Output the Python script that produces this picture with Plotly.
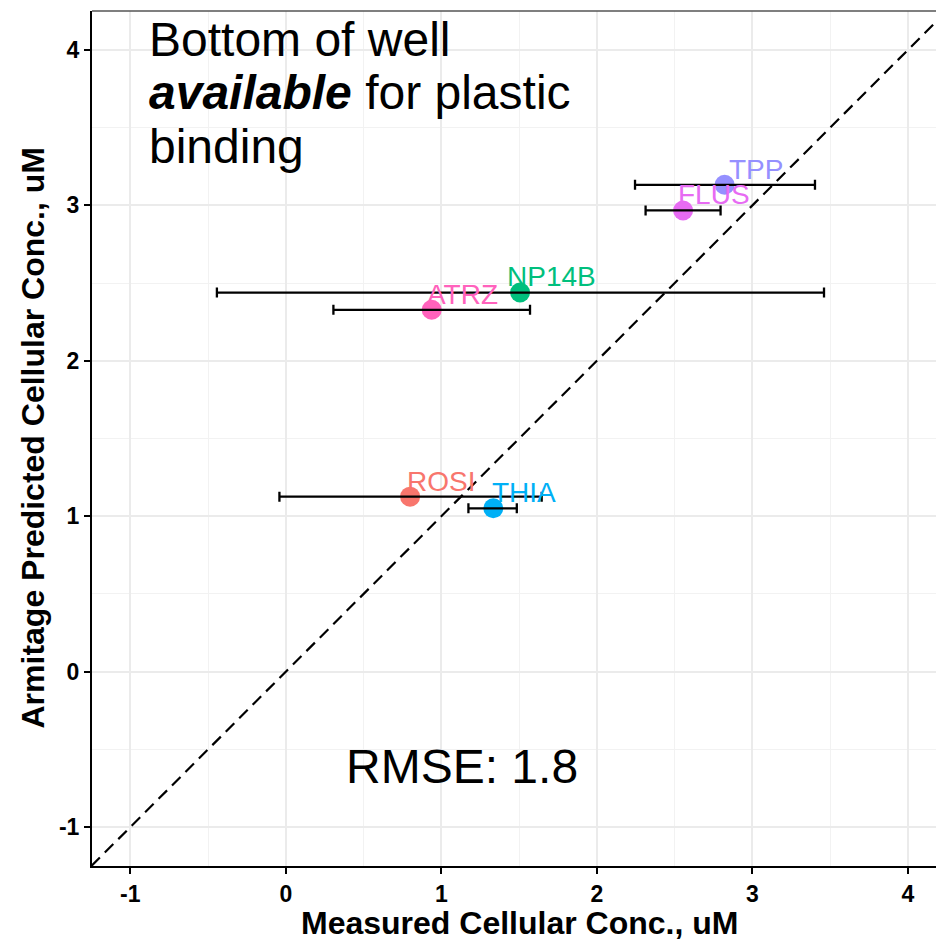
import plotly.graph_objects as go

# Chemicals, measured vs predicted cellular concentrations (uM)
compounds = ["ROSI", "THIA", "ATRZ", "NP14B", "FLUS", "TPP"]
measured = [0.799, 1.334, 0.938, 1.506, 2.554, 2.821]
predicted = [1.126, 1.051, 2.328, 2.439, 2.967, 3.132]
measured_low = [-0.041, 1.174, 0.306, -0.443, 2.313, 2.245]
measured_high = [1.645, 1.485, 1.570, 3.460, 2.795, 3.402]
colors = ["#F8766D", "#00B0F6", "#FF62BC", "#00BF7D", "#E76BF3", "#9590FF"]

tick_vals = [-1, 0, 1, 2, 3, 4]
tick_text = ["-1", "0", "1", "2", "3", "4"]

x_range = [-1.246, 4.180]
y_range = [-1.25, 4.25]
identity = [-1.25, 4.25]

FONT = "Liberation Sans, Arial, sans-serif"

fig = go.Figure()

# 1:1 reference line
fig.add_trace(go.Scatter(
    x=identity, y=identity, mode="lines",
    line=dict(color="black", width=2.2, dash="12px,7px"),
    hoverinfo="skip", showlegend=False,
))

# points
fig.add_trace(go.Scatter(
    x=measured, y=predicted, mode="markers",
    marker=dict(color=colors, size=20, line=dict(width=0)),
    showlegend=False,
))

# horizontal error bars drawn above the points
fig.add_trace(go.Scatter(
    x=measured, y=predicted, mode="markers",
    marker=dict(size=1, opacity=0),
    error_x=dict(
        type="data", symmetric=False,
        array=[h - m for h, m in zip(measured_high, measured)],
        arrayminus=[m - l for l, m in zip(measured_low, measured)],
        color="black", thickness=2.3, width=5,
    ),
    showlegend=False, hoverinfo="skip",
))

annotations = []
# compound labels, nudged up and to the right of each point
for name, mx, py, c in zip(compounds, measured, predicted, colors):
    annotations.append(dict(
        x=mx + 0.2, y=py + 0.1, xref="x", yref="y", text=name,
        showarrow=False, xanchor="center", yanchor="middle",
        font=dict(family=FONT, size=28, color=c),
    ))

# panel text
big = dict(family=FONT, size=48, color="black")
for txt, yy in [("Bottom of well", 4.069),
                ("<b><i>available</i></b> for plastic", 3.728),
                ("binding", 3.381)]:
    annotations.append(dict(
        x=-0.89, y=yy, xref="x", yref="y", text=txt, showarrow=False,
        xanchor="left", yanchor="middle", font=big,
    ))
annotations.append(dict(
    x=0.375, y=-0.607, xref="x", yref="y", text="RMSE: 1.8", showarrow=False,
    xanchor="left", yanchor="middle", font=big,
))

# axis titles
title_font = dict(family=FONT, size=32, color="black", weight="bold")
annotations.append(dict(
    x=1.5, y=0, xref="x", yref="paper", yshift=-57,
    text="Measured Cellular Conc., uM", showarrow=False,
    xanchor="center", yanchor="middle", font=title_font,
))
annotations.append(dict(
    x=0, y=0.5, xref="paper", yref="paper", xshift=-60,
    text="Armitage Predicted Cellular Conc., uM", showarrow=False,
    textangle=-90, xanchor="center", yanchor="middle", font=title_font,
))

axis_common = dict(
    tickvals=tick_vals, ticktext=tick_text,
    showline=True, linecolor="black", linewidth=2,
    ticks="outside", ticklen=6, tickwidth=2, tickcolor="black",
    tickfont=dict(family=FONT, size=23, color="black", weight="bold"),
    showgrid=True, gridcolor="#EBEBEB", gridwidth=2,
    minor=dict(dtick=0.5, showgrid=True, gridcolor="#F2F2F2", gridwidth=1.2, ticks=""),
    zeroline=False,
)

fig.update_layout(
    width=936, height=940,
    margin=dict(l=92, r=0, t=11, b=74),
    paper_bgcolor="white", plot_bgcolor="white",
    xaxis=dict(range=x_range, **axis_common),
    yaxis=dict(range=y_range, **axis_common),
    annotations=annotations,
    shapes=[dict(type="line", xref="paper", yref="paper", x0=0, x1=1, y0=1, y1=1,
                 line=dict(color="#555555", width=1.5))],
    showlegend=False,
)

fig.write_html("out.html")
